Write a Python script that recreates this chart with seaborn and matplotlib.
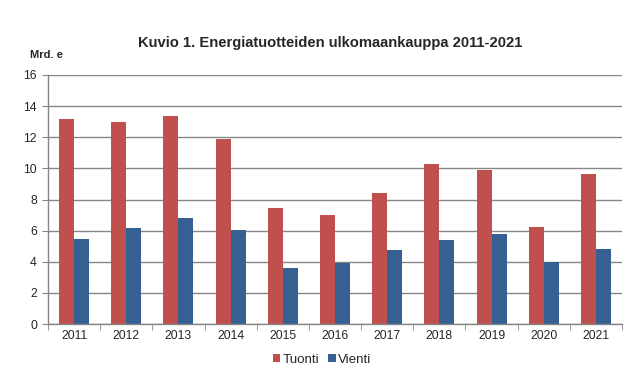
import pandas as pd
import matplotlib.pyplot as plt
import seaborn as sns

# Data (Mrd. e)
years = ["2011", "2012", "2013", "2014", "2015", "2016",
         "2017", "2018", "2019", "2020", "2021"]
tuonti = [13.15, 12.95, 13.35, 11.87, 7.45, 7.0, 8.4, 10.27, 9.88, 6.23, 9.63]
vienti = [5.45, 6.15, 6.82, 6.03, 3.6, 3.93, 4.75, 5.4, 5.78, 3.98, 4.8]
series = ["Tuonti", "Vienti"]
colors = ["#C0504D", "#376092"]

df = pd.DataFrame({
    "vuosi": years * 2,
    "arvo": tuonti + vienti,
    "sarja": [series[0]] * len(years) + [series[1]] * len(years),
})

sns.set_style("white")
plt.rcParams["font.family"] = ["Liberation Sans", "DejaVu Sans"]

fig = plt.figure(figsize=(6.41, 3.90), dpi=100)
ax = fig.add_axes([0.0749, 0.1692, 0.8955, 0.6385])

sns.barplot(data=df, x="vuosi", y="arvo", hue="sarja", palette=colors,
            width=0.575, gap=0, saturation=1, linewidth=0, ax=ax, legend=True)

ax.set_ylim(0, 16)
ax.set_xlim(-0.5, len(years) - 0.5)
ax.set_yticks(range(0, 17, 2))
ax.yaxis.grid(True, color="#868686", linewidth=1)
ax.set_axisbelow(True)

# tick marks between categories like the original
ax.set_xticks([i + 0.5 for i in range(-1, len(years))], minor=True)
ax.tick_params(axis="x", which="major", length=0, labelsize=8.8, pad=4)
ax.tick_params(axis="x", which="minor", length=4, color="#868686",
               direction="out", bottom=True)
ax.tick_params(axis="y", length=4, color="#868686", direction="out",
               left=True, labelsize=8.8, pad=4)

for side in ["top", "right"]:
    ax.spines[side].set_visible(False)
for side in ["left", "bottom"]:
    ax.spines[side].set_color("#868686")
    ax.spines[side].set_linewidth(1)

ax.set_xlabel("")
ax.set_ylabel("")

fig.text(0.515, 0.89, "Kuvio 1. Energiatuotteiden ulkomaankauppa 2011-2021",
         ha="center", va="center", fontsize=10.6, fontweight="bold")
fig.text(0.047, 0.858, "Mrd. e", ha="left", va="center",
         fontsize=8, fontweight="bold")

ax.legend(loc="center", bbox_to_anchor=(0.477, -0.145), ncol=2, frameon=False,
          fontsize=9.6, handlelength=0.55, handleheight=0.55,
          handletextpad=0.15, columnspacing=0.7)

fig.savefig("out.png", dpi=100)
